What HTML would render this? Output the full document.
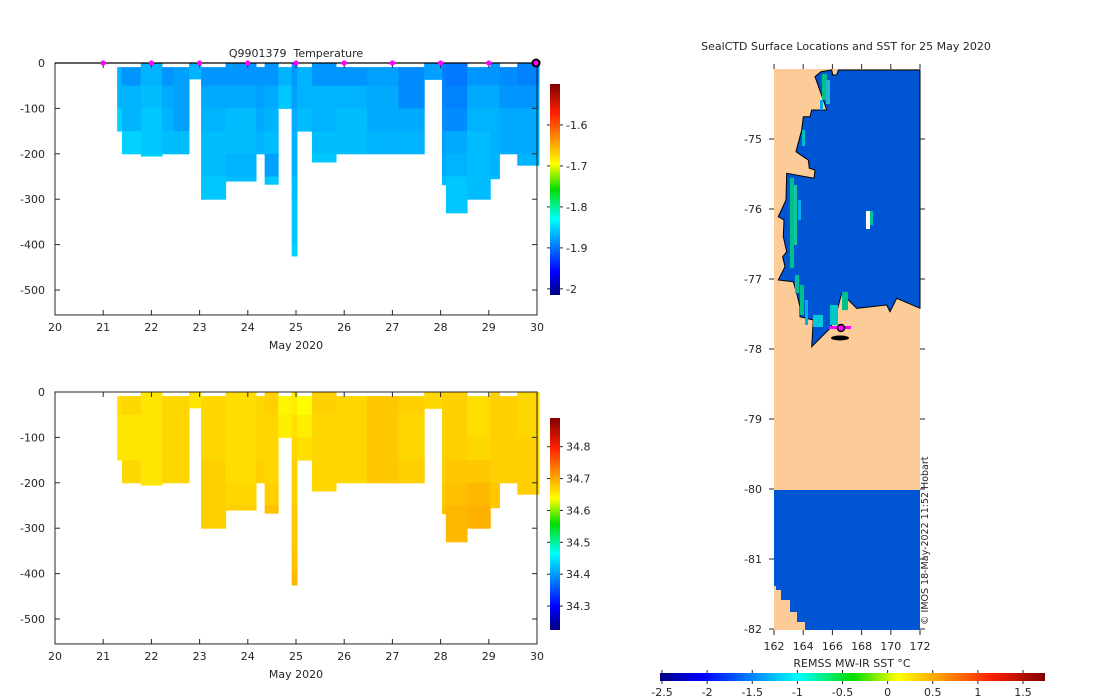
<!DOCTYPE html>
<html><head><meta charset="utf-8"><style>
body{margin:0;background:#fff}
svg{display:block;font-family:"DejaVu Sans","Liberation Sans",sans-serif;font-size:11px;fill:#262626}
</style></head><body>
<svg id="fig" width="1100" height="700" viewBox="0 0 1100 700">
<rect width="1100" height="700" fill="#fff"/>
<defs>
<linearGradient id="jetV" x1="0" y1="1" x2="0" y2="0">
<stop offset="0" stop-color="#000080"/><stop offset="0.11" stop-color="#0000ff"/><stop offset="0.36" stop-color="#00ffff"/><stop offset="0.5" stop-color="#00dd00"/><stop offset="0.62" stop-color="#ffff00"/><stop offset="0.86" stop-color="#ff2000"/><stop offset="1" stop-color="#800000"/>
</linearGradient>
<linearGradient id="jetH" x1="0" y1="0" x2="1" y2="0">
<stop offset="0" stop-color="#000080"/><stop offset="0.11" stop-color="#0000ff"/><stop offset="0.36" stop-color="#00ffff"/><stop offset="0.5" stop-color="#00dd00"/><stop offset="0.62" stop-color="#ffff00"/><stop offset="0.86" stop-color="#ff2000"/><stop offset="1" stop-color="#800000"/>
</linearGradient>
</defs>
<g id="topSec"></g>
<g id="botSec"></g>
<g id="mapSec"></g>
</svg>
<script>
// ---- section data ----
const profStart = [21.29,21.39,21.78,22.22,22.46,22.78,23.03,23.54,24.17,24.35,24.63,24.91,25.02,25.33,25.83,26.47,27.12,27.66,28.03,28.11,28.55,29.03,29.22,29.59];
const profEnd   = [21.39,21.78,22.22,22.46,22.78,23.03,23.54,24.17,24.35,24.63,24.91,25.02,25.33,25.83,26.47,27.12,27.66,28.03,28.11,28.55,29.03,29.22,29.59,30.04];
const profTop   = [9,9,0,9,9,0,9,0,9,0,9,0,9,0,9,9,9,0,0,0,9,0,9,0];
const profDepth = [150,200,205,200,200,35,300,260,200,267,100,425,150,218,200,200,200,36,268,330,300,255,200,225];
const tempBins = [
[-1.86,-1.86,-1.845],[-1.875,-1.86,-1.86,-1.845],[-1.86,-1.855,-1.85,-1.85,-1.845],[-1.875,-1.865,-1.86,-1.855],
[-1.87,-1.87,-1.87,-1.855],[-1.86],[-1.875,-1.865,-1.86,-1.855,-1.855,-1.85],[-1.875,-1.865,-1.855,-1.855,-1.86,-1.855],
[-1.875,-1.87,-1.865,-1.86],[-1.875,-1.865,-1.86,-1.855,-1.87,-1.85],[-1.86,-1.85],[-1.875,-1.87,-1.865,-1.86,-1.86,-1.855,-1.85,-1.85,-1.845],
[-1.86,-1.86,-1.855],[-1.875,-1.86,-1.86,-1.855,-1.85],[-1.875,-1.86,-1.855,-1.855],[-1.87,-1.865,-1.865,-1.86],
[-1.88,-1.88,-1.865,-1.86],[-1.87],[-1.885,-1.885,-1.88,-1.87,-1.865,-1.855],[-1.89,-1.885,-1.88,-1.865,-1.86,-1.85,-1.85],
[-1.875,-1.865,-1.86,-1.855,-1.855,-1.855],[-1.875,-1.865,-1.86,-1.86,-1.86,-1.855],[-1.88,-1.875,-1.865,-1.865],[-1.885,-1.875,-1.865,-1.865,-1.86]];
const salBins = [
[34.662,34.657,34.657],[34.667,34.657,34.657,34.667],[34.657,34.657,34.657,34.657,34.657],[34.667,34.667,34.667,34.667],
[34.667,34.667,34.667,34.667],[34.657],[34.667,34.667,34.667,34.672,34.672,34.672],[34.662,34.662,34.662,34.662,34.667,34.672],
[34.667,34.667,34.667,34.672],[34.672,34.667,34.667,34.667,34.672,34.682],[34.647,34.652],[34.652,34.662,34.667,34.672,34.672,34.677,34.677,34.682,34.687],
[34.642,34.652,34.662],[34.672,34.667,34.667,34.667,34.667],[34.667,34.667,34.667,34.667],[34.677,34.677,34.677,34.677],
[34.672,34.667,34.667,34.672],[34.667],[34.672,34.672,34.672,34.672,34.677,34.682],[34.672,34.672,34.672,34.677,34.682,34.687,34.687],
[34.662,34.662,34.667,34.677,34.687,34.692],[34.672,34.672,34.672,34.672,34.677,34.677],[34.672,34.672,34.672,34.672],[34.667,34.667,34.672,34.672,34.672]];
const markerDays = [21,22,23,24,25,26,27,28,29];
const xTicks = [20,21,22,23,24,25,26,27,28,29,30];
const yTicks = [0,-100,-200,-300,-400,-500];
const tempCbTicks = [-1.6,-1.7,-1.8,-1.9,-2];
const salCbTicks = [34.8,34.7,34.6,34.5,34.4,34.3];
const sstTicks = [-2.5,-2,-1.5,-1,-0.5,0,0.5,1,1.5];
const lonTicks = [162,164,166,168,170,172];
const latTicks = [-75,-76,-77,-78,-79,-80,-81,-82];

const NS='http://www.w3.org/2000/svg';
function el(p,tag,a){const e=document.createElementNS(NS,tag);for(const k in a)e.setAttribute(k,a[k]);p.appendChild(e);return e;}
function txt(p,x,y,s,anchor){const t=el(p,'text',{x:x,y:y,'text-anchor':anchor||'middle'});t.textContent=s;return t;}
function jet(t){t=Math.max(0,Math.min(1,t));const c=v=>Math.round(255*Math.max(0,Math.min(1,v)));
 return `rgb(${c(1.5-Math.abs(4*t-3))},${c(1.5-Math.abs(4*t-2))},${c(1.5-Math.abs(4*t-1))})`;}

function section(g, y0, vals, vmin, vmax, cbTicks, cbTop, cbBot, title){
 const xS=d=>55+(d-20)*48.2, yS=z=>y0+z*0.454;
 const yBot=y0+555*0.454;
 for(let i=0;i<profStart.length;i++){
  const b=vals[i];
  for(let k=0;k<b.length;k++){
   const z1=Math.max(k*50,profTop[i]), z2=Math.min((k+1)*50,profDepth[i]);
   if(z2<=z1)continue;
   const r=el(g,'rect',{x:xS(profStart[i]),y:yS(z1),width:xS(profEnd[i])-xS(profStart[i])+0.5,height:yS(z2)-yS(z1)+0.5,fill:jet((b[k]-vmin)/(vmax-vmin))});
   
   
  }
 }
 const ax=el(g,'rect',{x:55,y:y0,width:482,height:yBot-y0,fill:'none',stroke:'#262626','stroke-width':1});
 
 
 xTicks.forEach(d=>{const x=xS(d);el(g,'line',{x1:x,x2:x,y1:yBot,y2:yBot-5,stroke:'#262626'});el(g,'line',{x1:x,x2:x,y1:y0,y2:y0+5,stroke:'#262626'});
  const t=txt(g,x,yBot+16,String(d));
  
  });
 yTicks.forEach(v=>{const y=yS(-v);el(g,'line',{x1:55,x2:60,y1:y,y2:y,stroke:'#262626'});el(g,'line',{x1:537,x2:532,y1:y,y2:y,stroke:'#262626'});
  const t=txt(g,45,y+4,String(v),'end');
  
  });
 const xl=txt(g,296,yBot+34,'May 2020');
 
 
 if(title){const t=txt(g,296,y0-6,title);
  
  }
 const cb=el(g,'rect',{x:550,y:cbTop,width:10,height:cbBot-cbTop,fill:'url(#jetV)'});
 
 
 const cy=v=>cbBot-(v-vmin)/(vmax-vmin)*(cbBot-cbTop);
 cbTicks.forEach(v=>{const y=cy(v);el(g,'line',{x1:560,x2:563,y1:y,y2:y,stroke:'#262626'});el(g,'line',{x1:547,x2:550,y1:y,y2:y,stroke:'#262626'});
  const t=txt(g,566,y+4,String(v),'start');
  
  });
 return {xS,yS};
}
const topG=document.getElementById('topSec');
const s1=section(topG,63,tempBins,-2.015,-1.50,tempCbTicks,84,295,'Q9901379\u00a0 Temperature');
el(topG,'line',{x1:55,x2:537,y1:63,y2:63,stroke:'#000','stroke-width':1.2});
markerDays.forEach(d=>{const c=el(topG,'circle',{cx:s1.xS(d),cy:63,r:2.6,fill:'#ff00ff'});
 
 });
const lm=el(topG,'circle',{cx:s1.xS(29.98),cy:63,r:3.5,fill:'#ff00ff',stroke:'#000','stroke-width':2});


const botG=document.getElementById('botSec');
section(botG,392,salBins,34.225,34.89,salCbTicks,418,630,null);

// ---- map ----
const mG=document.getElementById('mapSec');
const lonS=l=>774+(l-162)*14.6, latS=a=>69+(-74-a)*70;
const bg=el(mG,'rect',{x:774,y:69,width:146,height:561,fill:'#fdcb98'});


const coast=[[183,35],[165,50],[190,120],[200,150],[155,150],[150,170],[130,170],[125,210],[108,275],[130,290],[145,300],[148,325],[165,330],[162,355],[80,340],[78,420],[55,470],[72,480],[70,530],[80,575],[68,590],[75,620],[55,660],[100,665],[110,700],[120,740],[120,770],[160,780],[155,860],[210,805],[225,775],[245,700],[290,745],[380,735],[390,755],[410,715],[480,745],[480,30],[235,30],[230,45],[218,45],[215,30]];
const cp=coast.map(p=>(760+p[0]/3).toFixed(1)+','+(60+p[1]/3).toFixed(1)).join(' ');
const oc=el(mG,'polygon',{points:cp,fill:'#0055d4',stroke:'#000','stroke-width':1});


const fringe=[[822,74,5,26,'#00c08a'],[826,80,4,24,'#20b8d0'],[820,100,3,10,'#00a8f0'],[802,130,3,16,'#00c0c0'],[790,178,4,90,'#00c08a'],[794,185,3,60,'#10c8a0'],[798,200,3,20,'#00b0e8'],[795,275,4,18,'#00c0a0'],[800,285,4,30,'#00c08a'],[805,300,3,25,'#00b0e8'],[830,305,8,20,'#00c8c8'],[842,292,6,18,'#00c08a'],[813,315,10,12,'#00c8d8'],[866,211,4,18,'#ffffff'],[870,211,3,14,'#00c0a0']];
fringe.forEach(f=>{const r=el(mG,'rect',{x:f[0],y:f[1],width:f[2],height:f[3],fill:f[4]});
 
 });
const south=el(mG,'polygon',{points:'774,490 920,490 920,630 805,630 805,622 797,622 797,612 790,612 790,600 781,600 781,590 776,590 776,568 779,568 779,586 774,586',fill:'#0055d4'});


el(mG,'ellipse',{cx:840,cy:338,rx:9,ry:2.5,fill:'#000'});
el(mG,'rect',{x:829,y:326,width:22,height:3,fill:'#ff00ff'});
const sm=el(mG,'circle',{cx:841,cy:328,r:3.5,fill:'#ff00ff',stroke:'#000','stroke-width':1.5});


lonTicks.forEach(l=>{const x=lonS(l);el(mG,'line',{x1:x,x2:x,y1:69,y2:64,stroke:'#262626'});el(mG,'line',{x1:x,x2:x,y1:630,y2:635,stroke:'#262626'});
 const t=txt(mG,x,650,String(l));
 
 });
latTicks.forEach(a=>{const y=latS(a);el(mG,'line',{x1:774,x2:769,y1:y,y2:y,stroke:'#262626'});el(mG,'line',{x1:920,x2:925,y1:y,y2:y,stroke:'#262626'});
 const t=txt(mG,762,y+4,String(a),'end');
 
 });
const mt=txt(mG,846,50,'SealCTD Surface Locations and SST for 25 May 2020');


const cr=el(mG,'text',{x:0,y:0,transform:'translate(928,625) rotate(-90)','font-size':'9.5'});
cr.textContent='© IMOS 18-May-2022 11:52 Hobart';


const hb=el(mG,'rect',{x:660,y:673,width:385,height:8,fill:'url(#jetH)'});


const ht=txt(mG,852,667,'REMSS MW-IR SST °C');


sstTicks.forEach(v=>{const x=662+(v+2.5)*90.25;el(mG,'line',{x1:x,x2:x,y1:681,y2:684,stroke:'#262626'});el(mG,'line',{x1:x,x2:x,y1:670,y2:673,stroke:'#262626'});
 const t=txt(mG,x,696,String(v));
 
 });
</script>
</body></html>
